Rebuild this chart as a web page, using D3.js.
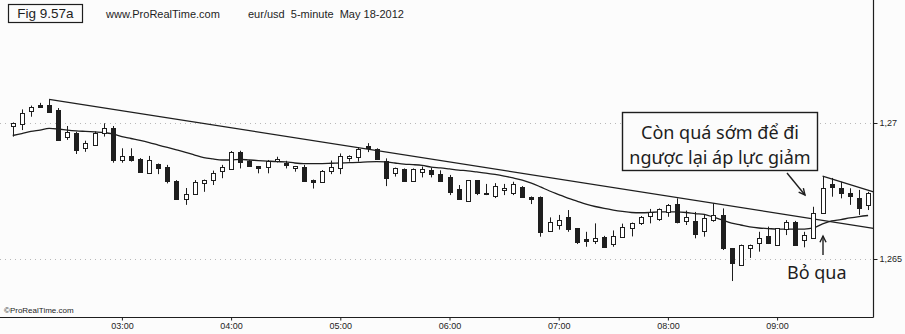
<!DOCTYPE html>
<html><head><meta charset="utf-8">
<script src="https://cdn.jsdelivr.net/npm/d3@7"></script>
<style>body{margin:0;background:#fcfcfc}svg{display:block}</style>
</head><body>
<svg id="c" width="905" height="334"></svg>
<script>
const times = [
"02:00","02:05","02:10","02:15","02:20","02:25","02:30","02:35","02:40","02:45","02:50","02:55",
"03:00","03:05","03:10","03:15","03:20","03:25","03:30","03:35","03:40","03:45","03:50","03:55",
"04:00","04:05","04:10","04:15","04:20","04:25","04:30","04:35","04:40","04:45","04:50","04:55",
"05:00","05:05","05:10","05:15","05:20","05:25","05:30","05:35","05:40","05:45","05:50","05:55",
"06:00","06:05","06:10","06:15","06:20","06:25","06:30","06:35","06:40","06:45","06:50","06:55",
"07:00","07:05","07:10","07:15","07:20","07:25","07:30","07:35","07:40","07:45","07:50","07:55",
"08:00","08:05","08:10","08:15","08:20","08:25","08:30","08:35","08:40","08:45","08:50","08:55",
"09:00","09:05","09:10","09:15","09:20","09:25","09:30","09:35","09:40","09:45","09:50"];
const open = [
1.26990,1.26999,1.27044,1.27068,1.27066,1.27048,1.26950,1.26962,1.26907,1.26919,
1.26962,1.26981,1.26864,1.26879,1.26867,1.26815,1.26849,1.26837,1.26787,1.26721,
1.26741,1.26779,1.26790,1.26824,1.26831,1.26894,1.26861,1.26841,1.26838,1.26861,
1.26852,1.26833,1.26840,1.26790,1.26783,1.26825,1.26835,1.26873,1.26873,1.26915,
1.26903,1.26862,1.26815,1.26832,1.26788,1.26820,1.26827,1.26814,1.26801,1.26759,
1.26711,1.26789,1.26737,1.26732,1.26754,1.26742,1.26766,1.26728,1.26727,1.26605,
1.26623,1.26653,1.26613,1.26575,1.26568,1.26581,1.26553,1.26580,1.26613,1.26633,
1.26660,1.26647,1.26676,1.26702,1.26638,1.26641,1.26603,1.26643,1.26662,1.26539,
1.26478,1.26540,1.26558,1.26585,1.26551,1.26613,1.26637,1.26570,1.26576,1.26668,
1.26776,1.26760,1.26742,1.26723,1.26699];
const high = [
1.27002,1.27050,1.27064,1.27074,1.27087,1.27055,1.26989,1.26968,1.26935,1.26969,
1.26999,1.26989,1.26907,1.26907,1.26871,1.26879,1.26851,1.26846,1.26790,1.26761,
1.26790,1.26792,1.26825,1.26846,1.26897,1.26898,1.26864,1.26842,1.26864,1.26876,
1.26861,1.26842,1.26846,1.26792,1.26827,1.26862,1.26888,1.26881,1.26911,1.26926,
1.26907,1.26870,1.26836,1.26833,1.26833,1.26840,1.26836,1.26826,1.26809,1.26772,
1.26790,1.26790,1.26776,1.26779,1.26776,1.26784,1.26768,1.26730,1.26730,1.26653,
1.26662,1.26680,1.26614,1.26600,1.26631,1.26585,1.26605,1.26630,1.26634,1.26658,
1.26684,1.26686,1.26702,1.26723,1.26678,1.26673,1.26662,1.26705,1.26686,1.26540,
1.26553,1.26553,1.26600,1.26619,1.26614,1.26643,1.26640,1.26600,1.26692,1.26805,
1.26798,1.26784,1.26760,1.26754,1.26747];
const low = [
1.26950,1.26974,1.27023,1.27060,1.27038,1.26934,1.26938,1.26886,1.26894,1.26917,
1.26950,1.26854,1.26854,1.26858,1.26820,1.26814,1.26812,1.26778,1.26717,1.26699,
1.26739,1.26747,1.26772,1.26797,1.26829,1.26833,1.26840,1.26815,1.26815,1.26855,
1.26833,1.26821,1.26789,1.26759,1.26781,1.26812,1.26812,1.26858,1.26858,1.26893,
1.26864,1.26768,1.26803,1.26787,1.26787,1.26800,1.26800,1.26783,1.26735,1.26719,
1.26710,1.26735,1.26735,1.26724,1.26735,1.26735,1.26728,1.26702,1.26582,1.26603,
1.26608,1.26600,1.26555,1.26545,1.26555,1.26544,1.26545,1.26579,1.26583,1.26625,
1.26631,1.26640,1.26655,1.26631,1.26625,1.26576,1.26582,1.26637,1.26533,1.26419,
1.26476,1.26504,1.26527,1.26555,1.26550,1.26588,1.26550,1.26543,1.26575,1.26667,
1.26729,1.26723,1.26699,1.26662,1.26680];
const close = [
1.27000,1.27038,1.27060,1.27061,1.27040,1.26938,1.26968,1.26901,1.26925,1.26962,
1.26981,1.26864,1.26879,1.26864,1.26821,1.26864,1.26836,1.26784,1.26721,1.26739,
1.26784,1.26790,1.26816,1.26837,1.26894,1.26858,1.26842,1.26835,1.26861,1.26867,
1.26843,1.26841,1.26790,1.26781,1.26825,1.26838,1.26879,1.26879,1.26903,1.26908,
1.26866,1.26800,1.26833,1.26788,1.26831,1.26831,1.26812,1.26787,1.26746,1.26721,
1.26789,1.26742,1.26742,1.26770,1.26761,1.26774,1.26730,1.26721,1.26600,1.26637,
1.26643,1.26608,1.26561,1.26568,1.26579,1.26546,1.26583,1.26616,1.26633,1.26656,
1.26673,1.26683,1.26700,1.26637,1.26653,1.26592,1.26650,1.26662,1.26539,1.26484,
1.26551,1.26551,1.26576,1.26558,1.26613,1.26637,1.26551,1.26588,1.26668,1.26760,
1.26764,1.26742,1.26732,1.26686,1.26742];
const ema = [
1.26954,1.26961,1.26969,1.26974,1.26980,1.26978,1.26974,1.26971,1.26969,1.26967,
1.26965,1.26960,1.26950,1.26943,1.26936,1.26928,1.26919,1.26910,1.26901,1.26892,
1.26882,1.26873,1.26868,1.26864,1.26864,1.26866,1.26864,1.26862,1.26860,1.26858,
1.26857,1.26853,1.26851,1.26851,1.26851,1.26852,1.26853,1.26854,1.26855,1.26857,
1.26858,1.26857,1.26853,1.26849,1.26847,1.26844,1.26838,1.26835,1.26831,1.26827,
1.26824,1.26820,1.26816,1.26811,1.26805,1.26798,1.26790,1.26779,1.26765,1.26750,
1.26737,1.26724,1.26713,1.26702,1.26693,1.26686,1.26680,1.26675,1.26671,1.26670,
1.26671,1.26673,1.26673,1.26673,1.26671,1.26667,1.26664,1.26654,1.26643,1.26632,
1.26625,1.26618,1.26614,1.26612,1.26610,1.26610,1.26610,1.26610,1.26614,1.26629,
1.26640,1.26645,1.26651,1.26656,1.26660];
// trend lines: two anchor points each (time, price), extended to the right edge
const trendA = [["02:20",1.27087],["09:50",1.26616]];
const trendB = [["09:25",1.26805],["09:50",1.26753]];
const yTicks = [1.265, 1.27];
const xTickHours = ["03:00","04:00","05:00","06:00","07:00","08:00","09:00"];
const noteText = ["Còn quá sớm để đi","ngược lại áp lực giảm"];
const skipText = "Bỏ qua";

const svg = d3.select("#c");
const INK = "#1e1e1e";
const plotRight = 873.5, plotBottom = 317.5;
const parse = d3.timeParse("%H:%M");
const x = d3.scaleTime().domain([parse("02:00"), parse("10:00")]).range([12.7, 12.7 + 96*9.1]);
const y = d3.scaleLinear().domain([1.265, 1.27]).range([259, 123]);

svg.append("rect").attr("width",905).attr("height",334).attr("fill","#fcfcfc");
svg.append("defs").append("clipPath").attr("id","clip").append("rect")
  .attr("x",0).attr("y",0).attr("width",plotRight).attr("height",plotBottom);

// gridlines (dotted)
svg.append("g").selectAll("line").data(yTicks).join("line")
  .attr("x1",0).attr("x2",plotRight)
  .attr("y1",d=>Math.round(y(d))+0.5).attr("y2",d=>Math.round(y(d))+0.5)
  .attr("stroke","#b8b8b8").attr("stroke-dasharray","1,4");

// header
svg.append("rect").attr("x",8.5).attr("y",4.5).attr("width",74).attr("height",18)
  .attr("fill","none").attr("stroke",INK).attr("stroke-width",1.2);
svg.append("text").attr("x",45.5).attr("y",18).attr("text-anchor","middle")
  .attr("font-family","Liberation Sans, Arial, sans-serif").attr("font-size",13.5).attr("fill",INK)
  .text("Fig 9.57a");
svg.append("text").attr("x",106).attr("y",18)
  .attr("font-family","Liberation Sans, Arial, sans-serif").attr("font-size",11).attr("fill",INK)
  .text("www.ProRealTime.com");
svg.append("text").attr("x",248).attr("y",18).attr("xml:space","preserve")
  .attr("font-family","Liberation Sans, Arial, sans-serif").attr("font-size",11).attr("fill",INK)
  .text("eur/usd  5-minute  May 18-2012");
svg.append("text").attr("x",4).attr("y",313)
  .attr("font-family","Liberation Sans, Arial, sans-serif").attr("font-size",8).attr("fill",INK)
  .text("©ProRealTime.com");

const plot = svg.append("g").attr("clip-path","url(#clip)");

// EMA
plot.append("path").datum(times.map((s,i)=>[parse(s), ema[i]]))
  .attr("fill","none").attr("stroke",INK).attr("stroke-width",1.3)
  .attr("d", d3.line().x(d=>x(d[0])).y(d=>y(d[1])).curve(d3.curveMonotoneX));

// trend lines
function trend(tl){
  const x1 = x(parse(tl[0][0])), y1 = y(tl[0][1]);
  const x2 = x(parse(tl[1][0])), y2 = y(tl[1][1]);
  const s = (y2-y1)/(x2-x1);
  plot.append("line").attr("x1",x1).attr("y1",y1).attr("x2",plotRight).attr("y2",y1 + s*(plotRight-x1))
    .attr("stroke",INK).attr("stroke-width",1.3);
}
trend(trendA); trend(trendB);

// candles
const data = times.map((s,i)=>({t:parse(s),o:open[i],h:high[i],l:low[i],c:close[i]}));
const cx = d => Math.round(x(d.t)) + 0.5;
plot.append("g").selectAll("line").data(data).join("line")
  .attr("x1",cx).attr("x2",cx).attr("y1",d=>y(d.h)).attr("y2",d=>y(d.l))
  .attr("stroke",INK).attr("stroke-width",1);
plot.append("g").selectAll("rect").data(data).join("rect")
  .attr("x",d=>cx(d)-2).attr("width",4)
  .attr("y",d=>Math.round(y(Math.max(d.o,d.c)))+0.5)
  .attr("height",d=>Math.max(1, Math.round(Math.abs(y(d.o)-y(d.c)))))
  .attr("fill",d=>d.c>=d.o ? "#ffffff" : INK)
  .attr("stroke",INK).attr("stroke-width",1);

// axes
const fmt = d3.formatLocale({decimal:",", thousands:".", grouping:[3], currency:["",""]}).format(".3~f");
const yAxis = d3.axisRight(y).tickValues(yTicks).tickSize(4).tickPadding(2).tickFormat(fmt);
const ga = svg.append("g").attr("transform",`translate(${plotRight},0)`).call(yAxis);
ga.select(".domain").remove();
ga.selectAll("text").attr("font-family","Liberation Sans, Arial, sans-serif").attr("font-size",9).attr("fill",INK);
ga.selectAll("line").attr("stroke",INK);
svg.append("line").attr("x1",plotRight).attr("x2",plotRight).attr("y1",0).attr("y2",plotBottom)
  .attr("stroke",INK).attr("stroke-width",1.2);

const xAxis = d3.axisBottom(x).tickValues(xTickHours.map(parse)).tickSize(3).tickPadding(2)
  .tickFormat(d3.timeFormat("%H:%M"));
const gx = svg.append("g").attr("transform",`translate(0,${plotBottom})`).call(xAxis);
gx.select(".domain").remove();
gx.selectAll("text").attr("font-family","Liberation Sans, Arial, sans-serif").attr("font-size",9).attr("fill",INK);
gx.selectAll("line").attr("stroke",INK);
svg.append("line").attr("x1",0).attr("x2",plotRight).attr("y1",plotBottom).attr("y2",plotBottom)
  .attr("stroke",INK).attr("stroke-width",1.2);

// annotation box
const NF = "Noto Sans, DejaVu Sans, sans-serif";
svg.append("rect").attr("x",622.5).attr("y",112.5).attr("width",195).attr("height",58)
  .attr("fill","#fcfcfc").attr("stroke",INK).attr("stroke-width",1.4);
svg.append("g").selectAll("text").data(noteText).join("text")
  .attr("x",720).attr("y",(d,i)=>139+i*25).attr("text-anchor","middle")
  .attr("font-family",NF).attr("font-size",18).attr("fill",INK).text(d=>d);

function arrow(x1,y1,x2,y2){
  svg.append("line").attr("x1",x1).attr("y1",y1).attr("x2",x2).attr("y2",y2)
    .attr("stroke",INK).attr("stroke-width",1.4);
  const a = Math.atan2(y2-y1,x2-x1), L = 7, w = 0.45;
  svg.append("path").attr("d",
    `M${x2-L*Math.cos(a-w)},${y2-L*Math.sin(a-w)}L${x2},${y2}L${x2-L*Math.cos(a+w)},${y2-L*Math.sin(a+w)}`)
    .attr("fill","none").attr("stroke",INK).attr("stroke-width",1.4);
}
arrow(787,173,805,195);
arrow(823,255,823,236);
svg.append("text").attr("x",787).attr("y",279)
  .attr("font-family",NF).attr("font-size",18).attr("fill",INK).text(skipText);
</script>
</body></html>
